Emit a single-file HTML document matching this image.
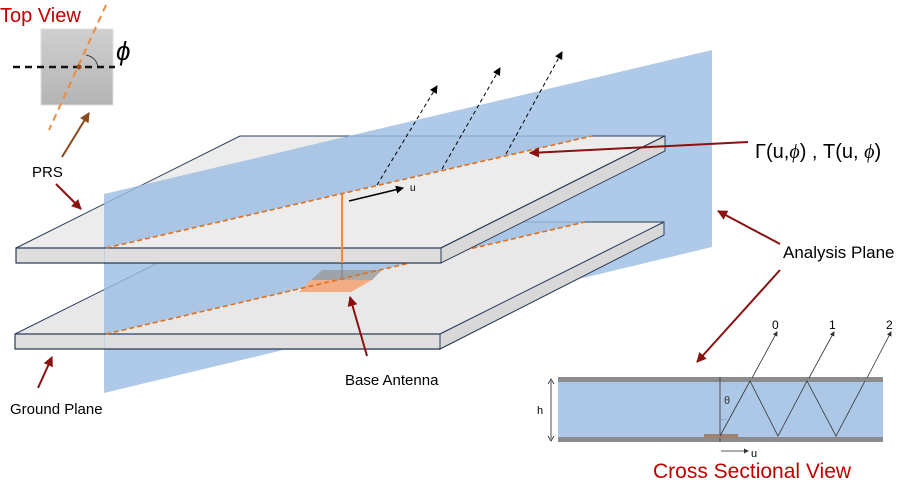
<!DOCTYPE html>
<html><head><meta charset="utf-8"><style>
html,body{margin:0;padding:0;background:#fff;width:899px;height:487px;overflow:hidden}
svg{display:block}
text{font-family:"Liberation Sans",sans-serif}
</style></head><body>
<svg width="899" height="487" viewBox="0 0 899 487" xmlns="http://www.w3.org/2000/svg">
<defs>
<marker id="ab" markerWidth="8" markerHeight="8" refX="7" refY="4" orient="auto" markerUnits="userSpaceOnUse"><path d="M0,0 L8,4 L0,8 z" fill="#000"/></marker>
<marker id="ar" markerWidth="10" markerHeight="10" refX="9" refY="5" orient="auto" markerUnits="userSpaceOnUse"><path d="M0,0 L10,5 L0,10 z" fill="#8b1010"/></marker>
<marker id="abr" markerWidth="10" markerHeight="10" refX="9" refY="5" orient="auto" markerUnits="userSpaceOnUse"><path d="M0,0 L10,5 L0,10 z" fill="#8a4a1a"/></marker>
<marker id="as" markerWidth="5" markerHeight="5" refX="4" refY="2.5" orient="auto" markerUnits="userSpaceOnUse"><path d="M0,0 L5,2.5 L0,5 z" fill="#333"/></marker>
<linearGradient id="g" x1="0" y1="0" x2="0" y2="1"><stop offset="0" stop-color="#cfcfcf"/><stop offset="1" stop-color="#b4b4b4"/></linearGradient>
</defs>

<!-- Top view -->
<text x="0" y="22" font-size="20" fill="#c00000">Top View</text>
<rect x="41" y="29" width="72" height="76" fill="url(#g)" stroke="#ddd"/>
<line x1="13" y1="67" x2="115" y2="67" stroke="#111" stroke-width="2.5" stroke-dasharray="7,5"/>
<line x1="106" y1="5" x2="49" y2="130" stroke="#f08a3c" stroke-width="2" stroke-dasharray="7,5"/>
<circle cx="79" cy="67" r="2.5" fill="#a04a10"/>
<path d="M86,55 Q96,57 98,67" fill="none" stroke="#222" stroke-width="0.8"/>
<text x="116" y="60" font-size="26" font-style="italic" font-family="Liberation Serif,serif">ϕ</text>
<line x1="62" y1="157" x2="89" y2="113" stroke="#8a4a1a" stroke-width="2" marker-end="url(#abr)"/>

<text x="32" y="177" font-size="15">PRS</text>
<line x1="56" y1="184" x2="81" y2="209" stroke="#8b1010" stroke-width="2" marker-end="url(#ar)"/>

<!-- lower plate -->
<polygon points="240,222 664,222 440,334 15,334" fill="#e8e8e8" stroke="#2c3e5a" stroke-width="1"/>
<polygon points="15,334 440,334 440,349 15,349" fill="#dedede" stroke="#2c3e5a" stroke-width="1.2"/>
<polygon points="440,334 664,222 664,235 440,349" fill="#d8d8d8" stroke="#2c3e5a" stroke-width="1"/>
<!-- top plate -->
<polygon points="240,136 665,136 441,248 16,248" fill="#ececec" stroke="#2c3e5a" stroke-width="1"/>
<polygon points="16,248 441,248 441,263 16,263" fill="#dedede" stroke="#2c3e5a" stroke-width="1.2"/>
<polygon points="441,248 665,136 665,151 441,263" fill="#d8d8d8" stroke="#2c3e5a" stroke-width="1"/>

<!-- analysis plane -->
<polygon points="104,194 712,50 712,247 104,393" fill="rgb(155,189,226)" fill-opacity="0.8"/>

<!-- lower front portion -->
<polygon points="105,334 585,222 664,222 440,334" fill="#e8e8e8"/>
<line x1="585" y1="222" x2="664" y2="222" stroke="#2c3e5a"/>
<line x1="664" y1="222" x2="440" y2="334" stroke="#2c3e5a"/>
<rect x="104.5" y="334" width="335.5" height="15" fill="#dedede"/>
<line x1="104" y1="334" x2="440" y2="334" stroke="#2c3e5a" stroke-width="1.2"/>
<line x1="104" y1="349" x2="440" y2="349" stroke="#2c3e5a" stroke-width="1.2"/>
<polygon points="440,334 664,222 664,235 440,349" fill="#d8d8d8" stroke="#2c3e5a" stroke-width="1"/>
<!-- patch -->
<polygon points="322,270 382,270 372,280 311,280" fill="#9a9a9a" fill-opacity="0.8"/>
<polygon points="311,280 372,280 351,292 299,292" fill="#f3ad84"/>
<line x1="342" y1="262" x2="342" y2="280" stroke="#888" stroke-width="1.5"/>
<line x1="106" y1="334" x2="585" y2="222" stroke="#e0701e" stroke-width="1.6" stroke-dasharray="5,3"/>

<!-- top front portion -->
<polygon points="105,248 592,136 665,136 441,248" fill="#ececec"/>
<line x1="592" y1="136" x2="665" y2="136" stroke="#2c3e5a"/>
<line x1="665" y1="136" x2="441" y2="248" stroke="#2c3e5a" stroke-width="1.5"/>
<rect x="104.5" y="248" width="336.5" height="15" fill="#dedede"/>
<line x1="104" y1="248" x2="441" y2="248" stroke="#2c3e5a" stroke-width="1.2"/>
<line x1="104" y1="263" x2="441" y2="263" stroke="#2c3e5a" stroke-width="1.2"/>
<polygon points="441,248 665,136 665,151 441,263" fill="#d8d8d8" stroke="#2c3e5a" stroke-width="1"/>
<line x1="342" y1="193" x2="342" y2="263" stroke="#f08a3c" stroke-width="2"/>
<line x1="106" y1="248" x2="592" y2="136" stroke="#e0701e" stroke-width="1.6" stroke-dasharray="5,3"/>

<!-- u arrow and dashed rays -->
<line x1="349" y1="201" x2="403" y2="188" stroke="#000" stroke-width="1.5" marker-end="url(#ab)"/>
<text x="410" y="191" font-size="10">u</text>
<line x1="377" y1="185" x2="437" y2="86" stroke="#000" stroke-width="1" stroke-dasharray="4,3" marker-end="url(#ab)"/>
<line x1="442" y1="169" x2="500" y2="68" stroke="#000" stroke-width="1" stroke-dasharray="4,3" marker-end="url(#ab)"/>
<line x1="506" y1="154" x2="562" y2="52" stroke="#000" stroke-width="1" stroke-dasharray="4,3" marker-end="url(#ab)"/>

<!-- Gamma label -->
<line x1="748" y1="142" x2="530" y2="153" stroke="#8b1010" stroke-width="2" marker-end="url(#ar)"/>
<text x="755" y="158" font-size="20">Γ(u,<tspan font-style="italic" font-family="Liberation Serif,serif">ϕ</tspan>) , T(u, <tspan font-style="italic" font-family="Liberation Serif,serif">ϕ</tspan>)</text>

<text x="783" y="258" font-size="17">Analysis Plane</text>
<line x1="780" y1="244" x2="718" y2="211" stroke="#8b1010" stroke-width="2" marker-end="url(#ar)"/>
<line x1="780" y1="270" x2="697" y2="362" stroke="#8b1010" stroke-width="2" marker-end="url(#ar)"/>

<text x="10" y="414" font-size="15">Ground Plane</text>
<line x1="38" y1="388" x2="52" y2="357" stroke="#8b1010" stroke-width="2" marker-end="url(#ar)"/>
<text x="345" y="385" font-size="15">Base Antenna</text>
<line x1="367" y1="356" x2="350" y2="297" stroke="#8b1010" stroke-width="2" marker-end="url(#ar)"/>

<!-- cross section -->
<rect x="558" y="382" width="325" height="55" fill="#acc8e6"/>
<rect x="558" y="377" width="325" height="5" fill="#8c8c8c"/>
<rect x="558" y="437" width="325" height="5" fill="#8c8c8c"/>
<line x1="720" y1="377" x2="720" y2="442" stroke="#333" stroke-width="0.8"/>
<rect x="704" y="434" width="34" height="4" fill="#a08070"/>
<line x1="551" y1="381" x2="551" y2="439" stroke="#222" stroke-width="0.8"/>
<path d="M548,384 L551,379 L554,384 M548,436 L551,441 L554,436" fill="none" stroke="#222" stroke-width="0.8"/>
<text x="537" y="414" font-size="11">h</text>
<text x="724" y="404" font-size="11" fill="#333">θ</text>
<path d="M720,420 L727,419" stroke="#6a8fc0" stroke-width="0.6"/>
<polyline points="720,436 750,381 778,436 807,381 836,436 865,381" fill="none" stroke="#333" stroke-width="0.8"/>
<line x1="752" y1="378" x2="777" y2="332" stroke="#333" stroke-width="0.8" marker-end="url(#as)"/>
<line x1="809" y1="378" x2="834" y2="332" stroke="#333" stroke-width="0.8" marker-end="url(#as)"/>
<line x1="867" y1="378" x2="891" y2="332" stroke="#333" stroke-width="0.8" marker-end="url(#as)"/>
<text x="772" y="329" font-size="12">0</text>
<text x="829" y="329" font-size="12">1</text>
<text x="886" y="329" font-size="12">2</text>
<line x1="721" y1="451" x2="748" y2="451" stroke="#222" stroke-width="0.8" marker-end="url(#as)"/>
<text x="751" y="457" font-size="11">u</text>
<text x="653" y="478" font-size="21" fill="#c00000">Cross Sectional View</text>
</svg>
</body></html>
